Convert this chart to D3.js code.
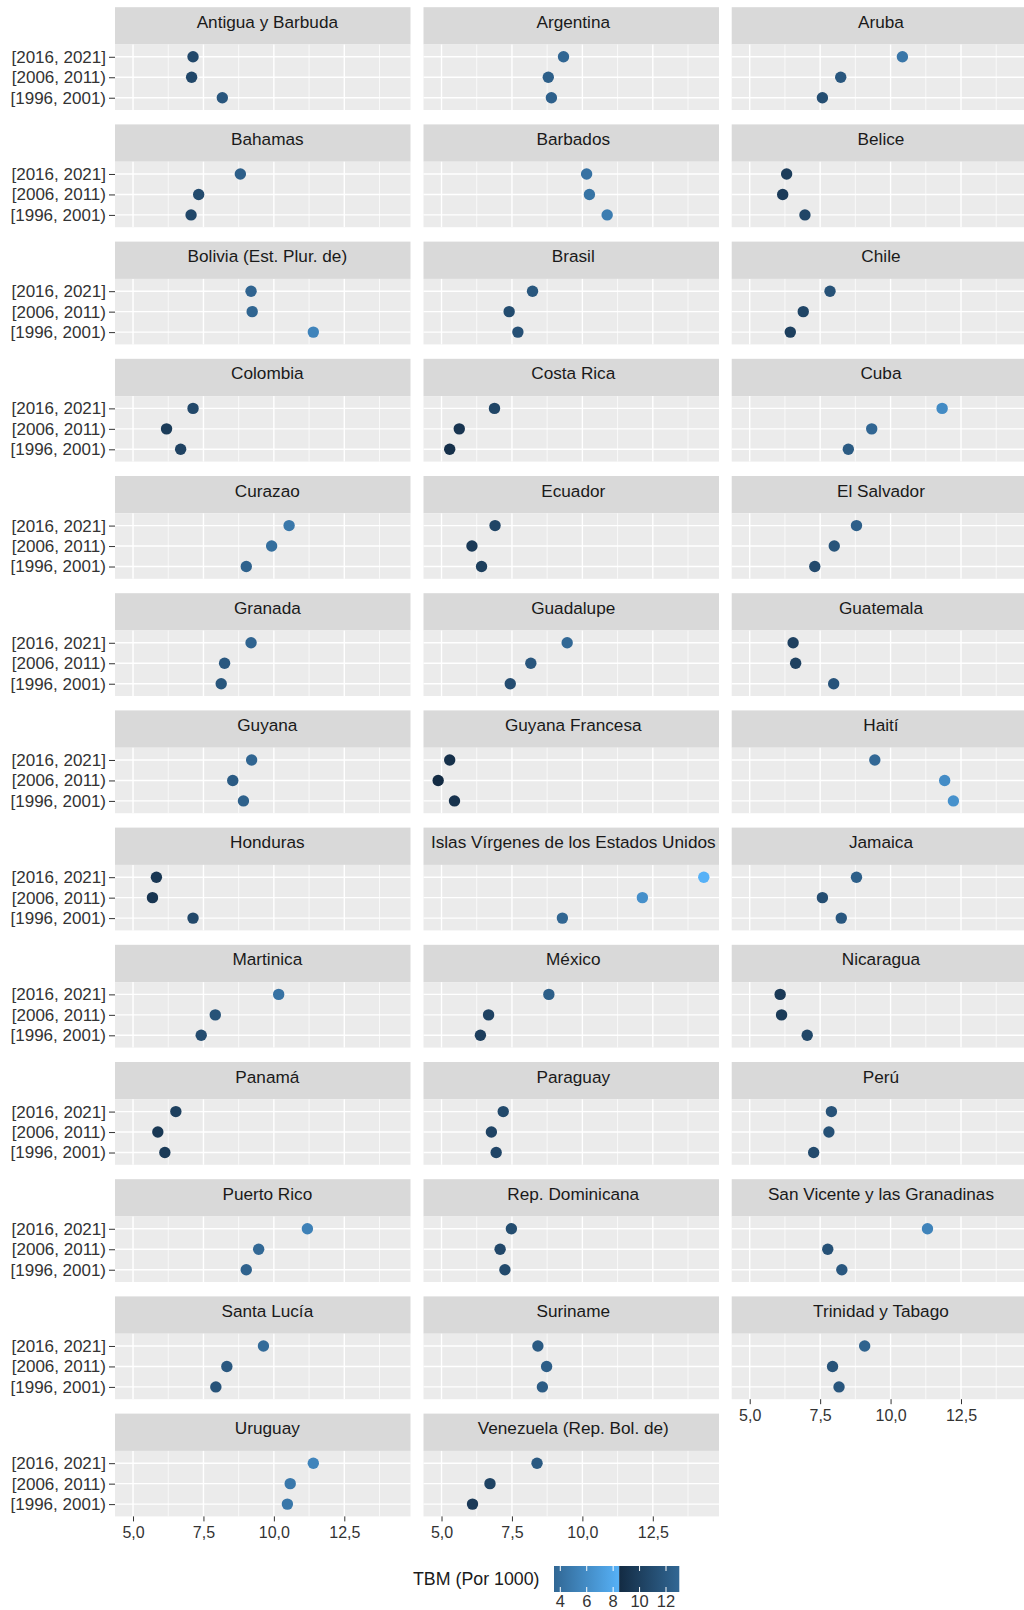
<!DOCTYPE html>
<html>
<head>
<meta charset="utf-8">
<script src="https://cdn.jsdelivr.net/npm/d3@7"></script>
<style>
  body { margin: 0; background: #fff; }
  svg text { font-family: "Liberation Sans", Arial, sans-serif; }
</style>
</head>
<body>
<script>
var periods = ["[2016, 2021]", "[2006, 2011)", "[1996, 2001)"];

var countries = [
  "Antigua y Barbuda", "Argentina", "Aruba",
  "Bahamas", "Barbados", "Belice",
  "Bolivia (Est. Plur. de)", "Brasil", "Chile",
  "Colombia", "Costa Rica", "Cuba",
  "Curazao", "Ecuador", "El Salvador",
  "Granada", "Guadalupe", "Guatemala",
  "Guyana", "Guyana Francesa", "Haití",
  "Honduras", "Islas Vírgenes de los Estados Unidos", "Jamaica",
  "Martinica", "México", "Nicaragua",
  "Panamá", "Paraguay", "Perú",
  "Puerto Rico", "Rep. Dominicana", "San Vicente y las Granadinas",
  "Santa Lucía", "Suriname", "Trinidad y Tabago",
  "Uruguay", "Venezuela (Rep. Bol. de)"
];

var v2016 = [
  7.13, 9.33, 10.42,
  8.81, 10.15, 6.31,
  9.19, 8.23, 7.85,
  7.13, 6.88, 11.83,
  10.54, 6.90, 8.79,
  9.19, 9.46, 6.54,
  9.21, 5.29, 9.44,
  5.83, 14.31, 8.79,
  10.17, 8.81, 6.08,
  6.52, 7.19, 7.90,
  11.19, 7.48, 11.31,
  9.63, 8.42, 9.08,
  11.40, 8.39
];

var v2006 = [
  7.08, 8.79, 8.23,
  7.33, 10.25, 6.17,
  9.23, 7.40, 6.90,
  6.19, 5.63, 9.33,
  9.92, 6.08, 8.00,
  8.25, 8.17, 6.63,
  8.54, 4.88, 11.92,
  5.69, 12.13, 7.58,
  7.92, 6.67, 6.13,
  5.88, 6.77, 7.81,
  9.46, 7.08, 7.77,
  8.33, 8.73, 7.94,
  10.58, 6.72
];

var v1996 = [
  8.17, 8.90, 7.58,
  7.06, 10.88, 6.96,
  11.40, 7.71, 6.44,
  6.69, 5.29, 8.50,
  9.02, 6.42, 7.31,
  8.13, 7.44, 7.98,
  8.92, 5.46, 12.23,
  7.13, 9.29, 8.25,
  7.42, 6.38, 7.04,
  6.13, 6.94, 7.27,
  9.02, 7.25, 8.27,
  7.94, 8.58, 8.17,
  10.48, 6.10
];

var xTicks = [5, 7.5, 10, 12.5];
var xMinor = [6.25, 8.75, 11.25, 13.75];
var legendTicks = [4, 6, 8, 10, 12];

var W = 1024, H = 1610;
var colLeft = [115, 423.5, 731.7];
var stripShift = [4.6, 2, 1.5];
var panelW = 295.5;
var stripH = 37.3, panelH = 65.5, rowStep = 117.2, top0 = 7.2;
var ncol = 3;
var font = "'Liberation Sans', Arial, sans-serif";

var svg = d3.select("body").append("svg").attr("width", W).attr("height", H);

var x = d3.scaleLinear().domain([4.36, 14.85]).range([0, panelW]);
var y = d3.scalePoint().domain(periods).range([0, panelH]).padding(0.6);

var allVals = v2016.concat(v2006, v1996);
var colorScale = d3
  .scaleLinear()
  .domain(d3.extent(allVals))
  .range(["#132B43", "#56B1F7"])
  .interpolate(d3.interpolateLab);

var fmt = function (d) {
  return d3.format(".1f")(d).replace(".", ",");
};

countries.forEach(function (name, i) {
  var col = i % ncol, row = Math.floor(i / ncol);
  var gx = colLeft[col], gy = top0 + row * rowStep;
  var g = svg.append("g").attr("transform", "translate(" + gx + "," + gy + ")");

  g.append("rect")
    .attr("width", panelW)
    .attr("height", stripH)
    .attr("fill", "#D9D9D9");
  g.append("text")
    .attr("x", panelW / 2 + stripShift[col])
    .attr("y", 20.5)
    .attr("text-anchor", "middle")
    .attr("font-size", 17.2)
    .attr("fill", "#1A1A1A")
    .text(name);

  var p = g.append("g").attr("transform", "translate(0," + stripH + ")");
  p.append("rect")
    .attr("width", panelW)
    .attr("height", panelH)
    .attr("fill", "#EBEBEB");

  p.selectAll(".minor")
    .data(xMinor)
    .enter()
    .append("line")
    .attr("x1", function (d) { return x(d); })
    .attr("x2", function (d) { return x(d); })
    .attr("y1", 0)
    .attr("y2", panelH)
    .attr("stroke", "#fff")
    .attr("stroke-width", 0.7);

  p.selectAll(".major")
    .data(xTicks)
    .enter()
    .append("line")
    .attr("x1", function (d) { return x(d); })
    .attr("x2", function (d) { return x(d); })
    .attr("y1", 0)
    .attr("y2", panelH)
    .attr("stroke", "#fff")
    .attr("stroke-width", 1.4);

  p.selectAll(".hgrid")
    .data(periods)
    .enter()
    .append("line")
    .attr("x1", 0)
    .attr("x2", panelW)
    .attr("y1", function (d) { return y(d); })
    .attr("y2", function (d) { return y(d); })
    .attr("stroke", "#fff")
    .attr("stroke-width", 1.4);

  var pts = [
    { p: periods[0], v: v2016[i] },
    { p: periods[1], v: v2006[i] },
    { p: periods[2], v: v1996[i] }
  ];
  p.selectAll("circle")
    .data(pts)
    .enter()
    .append("circle")
    .attr("cx", function (d) { return x(d.v); })
    .attr("cy", function (d) { return y(d.p); })
    .attr("r", 5.7)
    .attr("fill", function (d) { return colorScale(d.v); });

  if (col === 0) {
    var ya = p.append("g").call(d3.axisLeft(y).tickSize(6).tickPadding(3));
    ya.select(".domain").remove();
    ya.selectAll("line").attr("stroke", "#333");
    ya.selectAll("text")
      .attr("font-size", 17)
      .attr("fill", "#333")
      .style("font-family", font);
  }

  // x axis only where no panel sits below
  if (i + ncol >= countries.length) {
    var xa = p.append("g")
      .attr("transform", "translate(0," + panelH + ")")
      .call(d3.axisBottom(x).tickValues(xTicks).tickFormat(fmt).tickSize(5).tickPadding(5));
    xa.select(".domain").remove();
    xa.selectAll("line").attr("stroke", "#333");
    xa.selectAll("text")
      .attr("font-size", 16)
      .attr("fill", "#333")
      .style("font-family", font);
  }
});

// legend (colour bar drawn as it appears in the source, wrapped at ~8.5)
var legX = 554, legY = 1566, legW = 125.3, legH = 26;
var lx = d3.scaleLinear().domain([4, 12]).range([legX + 6.3, legX + 112]);
var split = 0.48;
var defs = svg.append("defs");
var c = d3.interpolateLab("#132B43", "#56B1F7");

var g1 = defs.append("linearGradient").attr("id", "lg1");
g1.append("stop").attr("offset", "0%").attr("stop-color", c(split));
g1.append("stop").attr("offset", "100%").attr("stop-color", c(1));
var g2 = defs.append("linearGradient").attr("id", "lg2");
g2.append("stop").attr("offset", "0%").attr("stop-color", c(0));
g2.append("stop").attr("offset", "100%").attr("stop-color", c(split));

var splitX = legX + legW * (1 - split);
svg.append("rect")
  .attr("x", legX).attr("y", legY)
  .attr("width", splitX - legX).attr("height", legH)
  .attr("fill", "url(#lg1)");
svg.append("rect")
  .attr("x", splitX).attr("y", legY)
  .attr("width", legX + legW - splitX).attr("height", legH)
  .attr("fill", "url(#lg2)");

svg.selectAll(".ltick-top")
  .data(legendTicks)
  .enter()
  .append("line")
  .attr("x1", function (d) { return lx(d); })
  .attr("x2", function (d) { return lx(d); })
  .attr("y1", legY)
  .attr("y2", legY + 5)
  .attr("stroke", "#fff")
  .attr("stroke-width", 1);
svg.selectAll(".ltick-bot")
  .data(legendTicks)
  .enter()
  .append("line")
  .attr("x1", function (d) { return lx(d); })
  .attr("x2", function (d) { return lx(d); })
  .attr("y1", legY + legH - 5)
  .attr("y2", legY + legH)
  .attr("stroke", "#fff")
  .attr("stroke-width", 1);

svg.selectAll(".llab")
  .data(legendTicks)
  .enter()
  .append("text")
  .attr("x", function (d) { return lx(d); })
  .attr("y", 1606.5)
  .attr("text-anchor", "middle")
  .attr("font-size", 16.5)
  .attr("fill", "#333")
  .text(function (d) { return d; });

svg.append("text")
  .attr("x", 413)
  .attr("y", legY + legH / 2)
  .attr("dy", "0.36em")
  .attr("font-size", 17.8)
  .attr("fill", "#1A1A1A")
  .text("TBM (Por 1000)");
</script>
</body>
</html>
